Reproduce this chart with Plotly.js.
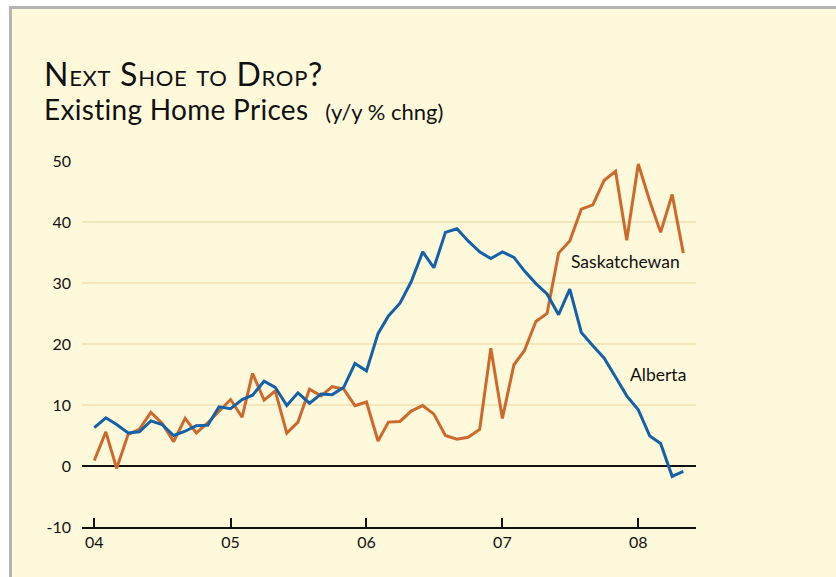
<!DOCTYPE html>
<html>
<head>
<meta charset="utf-8">
<script src="https://cdn.plot.ly/plotly-3.0.1.min.js"></script>
<style>html,body{margin:0;padding:0;background:#fff;}#chart{width:836px;height:577px;}</style>
</head>
<body>
<div id="chart"></div>
<script>
// Monthly observations, Jan 2004 .. May 2008
const startYear = 2004;
const nMonths = 53;
const alberta = [6.3, 7.9, 6.8, 5.4, 5.6, 7.4, 6.8, 5.0, 5.7, 6.6, 6.7, 9.7,
  9.4, 10.9, 11.6, 13.9, 12.9, 9.9, 12.0, 10.3, 11.8, 11.7, 12.9, 16.8,
  15.6, 21.7, 24.6, 26.7, 30.2, 35.1, 32.5, 38.3, 38.9, 36.9, 35.1, 34.0,
  35.1, 34.2, 32.0, 29.9, 28.2, 24.8, 29.0, 21.9, 19.7, 17.7, 14.6, 11.5,
  9.2, 4.9, 3.7, -1.7, -0.9];
const saskatchewan = [0.9, 5.6, -0.4, 5.2, 6.0, 8.8, 7.0, 4.0, 7.8, 5.4, 7.1, 8.9,
  10.9, 8.0, 15.2, 10.8, 12.3, 5.4, 7.2, 12.6, 11.5, 13.0, 12.6, 9.9,
  10.5, 4.1, 7.2, 7.3, 9.0, 9.9, 8.5, 5.0, 4.4, 4.7, 6.0, 19.3,
  7.8, 16.6, 18.9, 23.7, 25.0, 34.9, 36.9, 42.1, 42.8, 46.8, 48.3, 37.0,
  49.5, 43.4, 38.3, 44.5, 34.9];
const xTickVals = ['2004-01-01', '2005-01-01', '2006-01-01', '2007-01-01', '2008-01-01'];
const xTickText = ['04', '05', '06', '07', '08'];
const yTickVals = [-10, 0, 10, 20, 30, 40, 50];
const yTickText = ['-10', '0', '10', '20', '30', '40', '50'];

const months = [];
for (let i = 0; i < nMonths; i++) {
  const y = startYear + Math.floor(i / 12);
  const m = (i % 12) + 1;
  months.push(y + '-' + (m < 10 ? '0' + m : m) + '-01');
}

const L = 82, R = 696, T = 161, B = 527, W = 836, H = 577;
const px = x => (x - L) / (R - L);
const py = y => (B - y) / (B - T);

const cream = '#FEF9DB';
const labelFont = 'Lato, sans-serif';
const titleFont = 'Lato, "Open Sans", sans-serif';

const traces = [
  {x: months, y: saskatchewan, type: 'scatter', mode: 'lines', name: 'Saskatchewan',
   line: {color: '#CC6A2E', width: 3}, hoverinfo: 'skip'},
  {x: months, y: alberta, type: 'scatter', mode: 'lines', name: 'Alberta',
   line: {color: '#1461A8', width: 3}, hoverinfo: 'skip'}
];

const titleText =
  '<span style="font-size:32px;font-variant:small-caps;letter-spacing:0.7px">Next Shoe to Drop?</span><br>' +
  '<span style="font-size:28px;letter-spacing:0.3px">Existing Home Prices</span>' +
  '<span style="font-size:22px">\u00a0\u00a0\u00a0(y/y % chng)</span>';

const layout = {
  width: W, height: H,
  margin: {l: L, r: W - R, t: T, b: H - B, pad: 0},
  paper_bgcolor: '#ffffff',
  plot_bgcolor: 'rgba(0,0,0,0)',
  showlegend: false,
  xaxis: {
    type: 'date',
    range: ['2003-11-29', '2008-06-04'],
    tickvals: xTickVals, ticktext: xTickText,
    ticks: 'inside', ticklen: 9, tickwidth: 2, tickcolor: '#111',
    showline: true, linecolor: '#111', linewidth: 2,
    showgrid: false, zeroline: false,
    tickfont: {family: labelFont, size: 16, color: '#111'},
    ticklabelstandoff: 0
  },
  yaxis: {
    range: [-10, 50],
    tickvals: yTickVals, ticktext: yTickText,
    ticks: '', showline: false,
    showgrid: true, gridcolor: '#F4E7BC', gridwidth: 2,
    zeroline: true, zerolinecolor: '#111', zerolinewidth: 2,
    tickfont: {family: labelFont, size: 16, color: '#111'},
    ticklabelstandoff: 10
  },
  shapes: [
    {type: 'rect', xref: 'paper', yref: 'paper', layer: 'below',
     x0: px(10.5), x1: px(W + 10), y0: py(H + 10), y1: py(7.5),
     fillcolor: cream, line: {color: '#B4B4B4', width: 3}}
  ],
  annotations: [
    {text: titleText, xref: 'paper', yref: 'paper', x: px(42), y: py(52),
     xanchor: 'left', yanchor: 'top', align: 'left', showarrow: false,
     font: {family: titleFont, size: 26, color: '#111'}},
    {text: 'Saskatchewan', xref: 'paper', yref: 'paper', x: px(569), y: py(261),
     xanchor: 'left', yanchor: 'middle', showarrow: false,
     font: {family: labelFont, size: 17.5, color: '#111'}},
    {text: 'Alberta', xref: 'paper', yref: 'paper', x: px(628), y: py(374),
     xanchor: 'left', yanchor: 'middle', showarrow: false,
     font: {family: labelFont, size: 17.5, color: '#111'}}
  ]
};

Plotly.newPlot('chart', traces, layout, {staticPlot: true, displayModeBar: false});
</script>
</body>
</html>
